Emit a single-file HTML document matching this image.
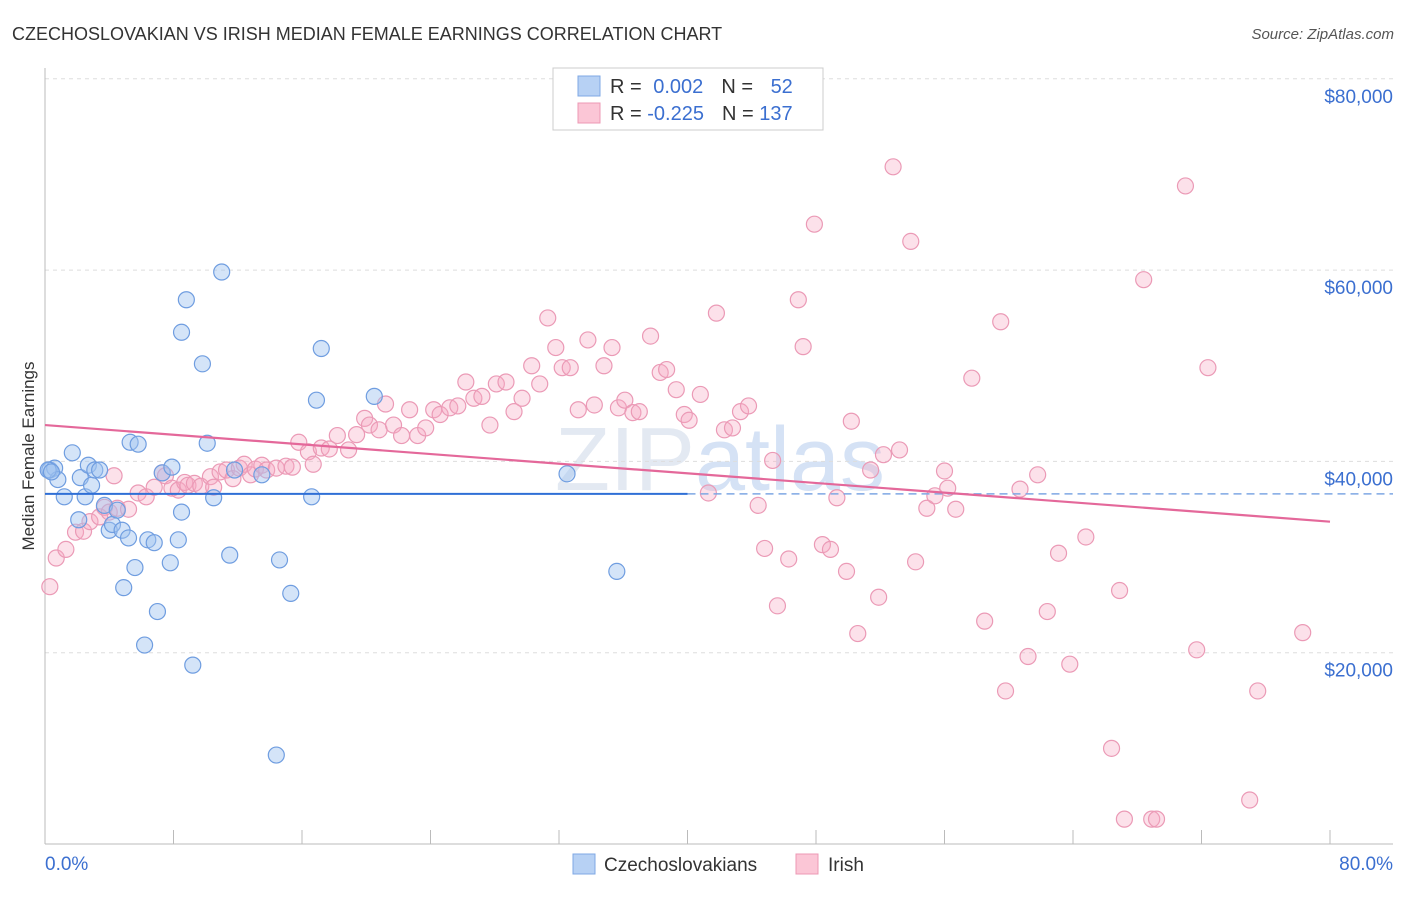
<!DOCTYPE html>
<html><head><meta charset="utf-8"><style>
body{margin:0;background:#fff;font-family:"Liberation Sans",sans-serif;}
svg text{font-family:"Liberation Sans",sans-serif;}
</style></head><body>
<svg id="chart" width="1406" height="892" xmlns="http://www.w3.org/2000/svg">
<text x="12" y="40" font-size="18" fill="#333">CZECHOSLOVAKIAN VS IRISH MEDIAN FEMALE EARNINGS CORRELATION CHART</text>
<text x="1394" y="39" font-size="15" fill="#555" font-style="italic" text-anchor="end">Source: ZipAtlas.com</text>
<text x="720" y="490" font-size="90" fill="#e3e9f2" text-anchor="middle" font-family="Liberation Serif">ZIP<tspan fill="#d5e2f5">atlas</tspan></text>
<g id="grid"></g>
<g id="axes"></g>
<g id="marks"></g>
<g id="trends"></g>
<text transform="translate(34,456) rotate(-90)" font-size="17" fill="#333" text-anchor="middle">Median Female Earnings</text>
<g>
<rect x="553" y="68" width="270" height="62" fill="#fff" stroke="#ccc"/>
<rect x="578" y="76" width="22" height="20" fill="#b7d1f4" stroke="#7fa8e4"/>
<rect x="578" y="103" width="22" height="20" fill="#fbc6d6" stroke="#ec98b4"/>
<text x="610" y="93" font-size="20" fill="#333">R = <tspan fill="#3b6fd0" dx="6">0.002</tspan><tspan fill="#333" dx="18">N = </tspan><tspan fill="#3b6fd0" dx="12">52</tspan></text>
<text x="610" y="120" font-size="20" fill="#333">R = <tspan fill="#3b6fd0">-0.225</tspan><tspan fill="#333" dx="18">N = </tspan><tspan fill="#3b6fd0">137</tspan></text>
</g>
<g>
<rect x="573" y="854" width="22" height="20" fill="#b7d1f4" stroke="#7fa8e4"/>
<text x="604" y="871" font-size="19" fill="#333">Czechoslovakians</text>
<rect x="796" y="854" width="22" height="20" fill="#fbc6d6" stroke="#ec98b4"/>
<text x="828" y="871" font-size="19" fill="#333">Irish</text>
</g>
</svg>
<script>
const yTicks=[20000,40000,60000,80000];
const yTickLabels=["$20,000","$40,000","$60,000","$80,000"];
const xTickLabels=["0.0%","80.0%"];
const blueX=[0.3,0.6,0.8,1.2,1.7,2.1,2.2,2.5,2.7,2.9,3.1,3.4,3.7,4.0,4.2,4.5,4.8,4.9,5.2,5.6,5.3,5.8,6.4,6.8,7.0,6.2,7.3,7.8,7.9,8.3,8.5,8.5,8.8,9.2,9.8,10.1,10.5,11.0,11.5,11.8,13.5,14.4,14.6,15.3,16.6,16.9,17.2,20.5,32.5,35.6,0.2,0.4];
const blueY=[39100,39300,38100,36300,40900,33900,38300,36300,39600,37500,39100,39100,35400,32800,33400,34900,32800,26800,32000,28900,42000,41800,31800,31500,24300,20800,38800,29400,39400,31800,34700,53500,56900,18700,50200,41900,36200,59800,30200,39100,38600,9300,29700,26200,36300,46400,51800,46800,38700,28500,39100,38900];
const pinkX=[0.3,0.7,1.3,1.9,2.4,2.8,3.4,3.7,4.0,4.3,4.5,5.2,5.8,6.3,6.8,7.3,7.5,7.9,8.3,8.7,8.9,9.3,9.7,10.3,10.5,10.9,11.3,11.7,12.1,12.4,12.8,13.1,13.5,13.8,14.4,15.0,15.4,15.8,16.4,16.7,17.2,17.7,18.2,18.9,19.4,19.9,20.2,20.8,21.2,21.7,22.2,22.7,23.2,23.7,24.2,24.6,25.2,25.7,26.2,26.7,27.2,27.7,28.1,28.7,29.2,29.7,30.3,30.8,31.3,31.8,32.2,32.7,33.2,33.8,34.2,34.8,35.3,35.7,36.1,36.6,37.0,37.7,38.3,38.7,39.3,39.8,40.1,40.8,41.3,41.8,42.3,42.8,43.3,43.8,44.4,44.8,45.3,45.6,46.3,46.9,47.2,47.9,48.4,48.9,49.3,49.9,50.2,50.6,51.4,51.9,52.2,52.8,53.2,53.9,54.2,54.9,55.4,56.0,56.2,56.7,57.7,58.5,59.5,59.8,60.7,61.2,61.8,62.4,63.1,63.8,64.8,66.4,66.9,67.2,68.4,68.9,69.2,71.0,71.7,72.4,75.0,75.5,78.3];
const pinkY=[26900,29900,30800,32600,32700,33700,34200,35200,34700,38500,35100,35000,36700,36300,37300,38800,38500,37200,37000,37800,37500,37700,37400,38400,37300,38900,39100,38200,39300,39700,38600,39200,39600,39100,39300,39500,39400,42000,41000,39700,41400,41300,42700,41200,42800,44500,43800,43300,46000,43800,42700,45400,42700,43500,45400,44900,45600,45800,48300,46600,46800,43800,48100,48300,45200,46600,50000,48100,55000,51900,49800,49800,45400,52700,45900,50000,51900,45600,46400,45100,45200,53100,49300,49600,47500,44900,44300,47000,36700,55500,43300,43500,45200,45800,35400,30900,40100,24900,29800,56900,52000,64800,31300,30800,36200,28500,44200,22000,39100,25800,40700,70800,41200,63000,29500,35100,36400,39000,37200,35000,48700,23300,54600,16000,37100,19600,38600,24300,30400,18800,32100,10000,26500,2600,59000,2600,2600,68800,20300,49800,4600,16000,22100];
const blueTrend=[36600,36600];
const pinkTrend=[43800,33700];
const NS="http://www.w3.org/2000/svg";
const X0=45,X1=1330,Y0=844,YP=191.3/20000;
function sx(v){return X0+(v/80)*(X1-X0);}
function sy(v){return Y0-v*YP;}
function mk(tag,attrs,parent){const e=document.createElementNS(NS,tag);for(const k in attrs)e.setAttribute(k,attrs[k]);parent.appendChild(e);return e;}
const grid=document.getElementById('grid'),axes=document.getElementById('axes'),marks=document.getElementById('marks'),trends=document.getElementById('trends');
yTicks.forEach((t,i)=>{
 const l=mk('line',{x1:45,x2:1393,y1:sy(t),y2:sy(t),stroke:'#ddd','stroke-dasharray':'4,4'},grid);
 
 
 const tx=mk('text',{x:1393,y:sy(t)+24,'font-size':19,fill:'#3b6fd0','text-anchor':'end'},axes);
 tx.textContent=yTickLabels[i];
 
 
});
const ax=mk('line',{x1:45,x2:1393,y1:Y0,y2:Y0,stroke:'#bbb'},axes);


const ayl=mk('line',{x1:45,x2:45,y1:68,y2:Y0,stroke:'#bbb'},axes);


for(let i=1;i<=10;i++){
 const tk=mk('line',{x1:sx(i*8),x2:sx(i*8),y1:Y0,y2:Y0-14,stroke:'#bbb'},axes);
 
 
}
[[0,'start',45],[80,'end',1393]].forEach((d,i)=>{
 const t=mk('text',{x:d[2],y:870,'font-size':19,fill:'#3b6fd0','text-anchor':d[1]},axes);
 t.textContent=xTickLabels[i];
 
 
});
pinkX.forEach((x,i)=>{
 const c=mk('circle',{cx:sx(x),cy:sy(pinkY[i]),r:8,fill:'rgba(245,170,195,0.35)',stroke:'#eb9ab6','stroke-width':1.2},marks);
 
 
});
blueX.forEach((x,i)=>{
 const c=mk('circle',{cx:sx(x),cy:sy(blueY[i]),r:8,fill:'rgba(160,195,240,0.45)',stroke:'#6f9de0','stroke-width':1.2},marks);
 
 
});
const b1=mk('line',{x1:sx(0),x2:sx(40),y1:sy(blueTrend[0]),y2:sy(blueTrend[0]+(blueTrend[1]-blueTrend[0])/2),stroke:'#2f6fd6','stroke-width':2},trends);


const b2=mk('line',{x1:sx(40),x2:1393,y1:sy(blueTrend[0]+(blueTrend[1]-blueTrend[0])/2),y2:sy(blueTrend[1]),stroke:'#7fa8e4','stroke-width':1.5,'stroke-dasharray':'8,5'},trends);


const p1=mk('line',{x1:sx(0),x2:sx(80),y1:sy(pinkTrend[0]),y2:sy(pinkTrend[1]),stroke:'#e4689a','stroke-width':2.2},trends);


</script>
</body></html>
